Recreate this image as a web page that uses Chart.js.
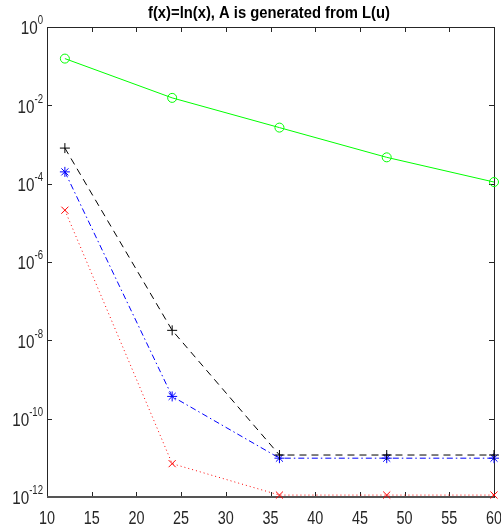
<!DOCTYPE html>
<html>
<head>
<meta charset="utf-8">
<script src="https://cdn.jsdelivr.net/npm/chart.js@4/dist/chart.umd.min.js"></script>
<style>
  html, body { margin: 0; padding: 0; background: #fff; }
  #wrap { width: 501px; height: 531px; }
</style>
</head>
<body>
<div id="wrap"><canvas id="errChart" width="501" height="531"></canvas></div>
<script>
// values
var sizes = [12, 24, 36, 48, 60];
var errGreen = [0.156, 0.0155, 2.7e-3, 4.7e-4, 1.1e-4];
var errBlack = [8.1e-4, 1.8e-8, 1.18e-11, 1.18e-11, 1.18e-11];
var errBlue = [2.0e-4, 3.7e-10, 9.8e-12, 9.8e-12, 9.8e-12];
var errRed = [2.1e-5, 7.1e-12, 1.12e-12, 1.12e-12, 1.12e-12];
var xTicks = [10, 15, 20, 25, 30, 35, 40, 45, 50, 55, 60];
var yExponents = [0, -2, -4, -6, -8, -10, -12];
var titleText = 'f(x)=ln(x), A is generated from L(u)';

var FONT = "'Liberation Sans', Arial, sans-serif";
var AXIS = '#262626';
var SQUEEZE = 0.8; // the reference uses a condensed Helvetica look

function pts(arr) {
  return sizes.map(function (s, i) { return { x: s, y: arr[i] }; });
}

function series(data, color, style, radius, dash) {
  return {
    data: pts(data),
    borderColor: color,
    backgroundColor: 'rgba(0,0,0,0)',
    borderWidth: 1,
    borderDash: dash,
    pointStyle: style,
    pointRadius: radius,
    pointBorderColor: color,
    pointBackgroundColor: 'rgba(0,0,0,0)',
    pointBorderWidth: 1,
    tension: 0,
    clip: false,
  };
}

// draws squeezed text; align is 'left' | 'center' | 'right'
function narrowText(ctx, txt, x, y, font, sx, align) {
  ctx.save();
  ctx.font = font;
  var w = ctx.measureText(txt).width * sx;
  var left = align === 'right' ? x - w : align === 'center' ? x - w / 2 : x;
  ctx.translate(left, y);
  ctx.scale(sx, 1);
  ctx.textAlign = 'left';
  ctx.fillText(txt, 0, 0);
  ctx.restore();
  return w;
}

var framePlugin = {
  id: 'matlabFrame',
  beforeDatasetsDraw: function (chart) {
    var ctx = chart.ctx, a = chart.chartArea;
    var x = chart.scales.x, y = chart.scales.y;
    ctx.save();
    ctx.strokeStyle = AXIS;
    ctx.lineWidth = 1;
    ctx.strokeRect(Math.round(a.left) + 0.5, Math.round(a.top) + 0.5,
      Math.round(a.right - a.left), Math.round(a.bottom - a.top));
    ctx.beginPath();
    xTicks.forEach(function (v) {
      var px = Math.round(x.getPixelForValue(v)) + 0.5;
      ctx.moveTo(px, a.bottom); ctx.lineTo(px, a.bottom - 5);
      ctx.moveTo(px, a.top); ctx.lineTo(px, a.top + 5);
    });
    yExponents.forEach(function (e) {
      var py = Math.round(y.getPixelForValue(Math.pow(10, e))) + 0.5;
      ctx.moveTo(a.left, py); ctx.lineTo(a.left + 5, py);
      ctx.moveTo(a.right, py); ctx.lineTo(a.right - 5, py);
    });
    ctx.stroke();
    ctx.beginPath();
    ctx.lineWidth = 2;
    ctx.strokeStyle = '#555';
    ctx.moveTo(a.left, a.bottom); ctx.lineTo(a.right, a.bottom);
    ctx.stroke();

    // tick labels
    ctx.fillStyle = AXIS;
    ctx.textBaseline = 'middle';
    xTicks.forEach(function (v) {
      narrowText(ctx, String(v), x.getPixelForValue(v), a.bottom + 22, '18px ' + FONT, SQUEEZE, 'center');
    });
    yExponents.forEach(function (e) {
      var py = y.getPixelForValue(Math.pow(10, e));
      var exp = e === 0 ? '0' : '-' + String(-e);
      var ew = narrowText(ctx, exp, a.left - 4, py - 6, '12px ' + FONT, SQUEEZE, 'right');
      narrowText(ctx, '10', a.left - 4 - ew, py + 2, '19px ' + FONT, SQUEEZE, 'right');
    });

    // title, squeezed to the reference's width
    ctx.fillStyle = '#000';
    ctx.textBaseline = 'alphabetic';
    ctx.font = 'bold 16px ' + FONT;
    var tw = ctx.measureText(titleText).width;
    narrowText(ctx, titleText, 148, 18, 'bold 16px ' + FONT, 242 / tw, 'left');
    ctx.restore();
  }
};

new Chart(document.getElementById('errChart'), {
  type: 'line',
  data: {
    datasets: [
      series(errGreen, '#00ff00', 'circle', 4.5, []),
      series(errBlack, '#000000', 'cross', 5, [7, 5]),
      series(errBlue, '#0000ff', 'star', 5, [6, 3, 1.5, 3]),
      series(errRed, '#ff0000', 'crossRot', 5, [1, 3]),
    ],
  },
  options: {
    responsive: false,
    animation: false,
    layout: { padding: { left: 0, right: 7, top: 27, bottom: 0 } },
    plugins: {
      legend: { display: false },
      tooltip: { enabled: false },
      title: { display: false },
    },
    scales: {
      x: {
        type: 'linear',
        min: 10,
        max: 60,
        grid: { display: false },
        border: { display: false },
        ticks: { display: false },
        afterFit: function (s) { s.height = 34; },
      },
      y: {
        type: 'logarithmic',
        min: 1e-12,
        max: 1,
        grid: { display: false },
        border: { display: false },
        ticks: { display: false },
        afterFit: function (s) { s.width = 47; },
      },
    },
  },
  plugins: [framePlugin],
});
</script>
</body>
</html>
